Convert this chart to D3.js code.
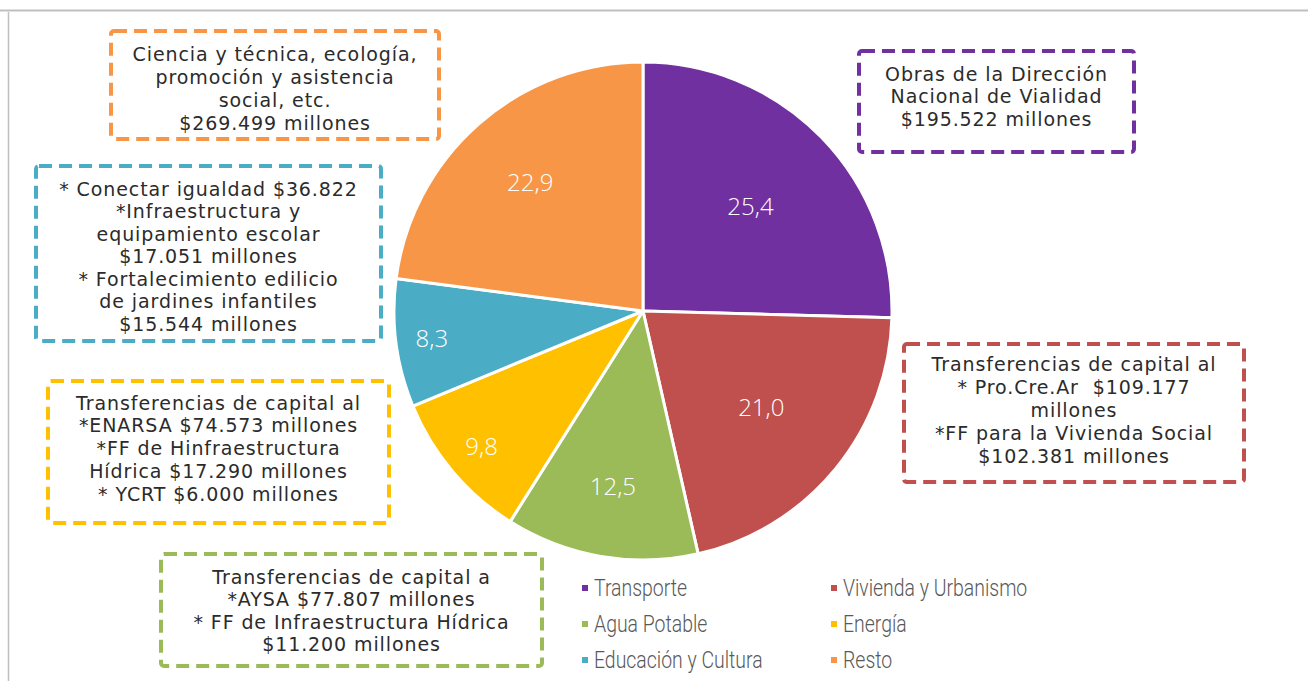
<!DOCTYPE html>
<html>
<head>
<meta charset="utf-8">
<script src="https://cdn.jsdelivr.net/npm/d3@7"></script>
<style>
  body { margin: 0; background: #fff; }
  svg { display: block; }
</style>
</head>
<body>
<svg id="chart" width="1308" height="681"></svg>
<script>
// data
var categories = ["Transporte", "Vivienda y Urbanismo", "Agua Potable", "Energía", "Educación y Cultura", "Resto"];
var values = [25.4, 21.0, 12.5, 9.8, 8.3, 22.9];
var colors = ["#7030A0", "#C0504D", "#9BBB59", "#FFC000", "#4BACC6", "#F79646"];

// callout texts, one per category
var notes = [
  ["Obras de la Dirección", "Nacional de Vialidad", "$195.522 millones"],
  ["Transferencias de capital al", "* Pro.Cre.Ar  $109.177", "millones", "*FF para la Vivienda Social", "$102.381 millones"],
  ["Transferencias de capital a", "*AYSA $77.807 millones", "* FF de Infraestructura Hídrica", "$11.200 millones"],
  ["Transferencias de capital al", "*ENARSA $74.573 millones", "*FF de Hinfraestructura", "Hídrica $17.290 millones", "* YCRT $6.000 millones"],
  ["* Conectar igualdad $36.822", "*Infraestructura y", "equipamiento escolar", "$17.051 millones", "* Fortalecimiento edilicio", "de jardines infantiles", "$15.544 millones"],
  ["Ciencia y técnica, ecología,", "promoción y asistencia", "social, etc.", "$269.499 millones"]
];

var svg = d3.select("#chart");

// chart frame (partly visible)
svg.append("line").attr("x1", 0).attr("x2", 1308).attr("y1", 10.5).attr("y2", 10.5)
  .attr("stroke", "#bfbfbf").attr("stroke-width", 2);
svg.append("line").attr("x1", 8.5).attr("x2", 8.5).attr("y1", 12).attr("y2", 681)
  .attr("stroke", "#bfbfbf").attr("stroke-width", 1.5);

var cx = 643, cy = 311, R = 249;

var pie = d3.pie().sort(null).value(function(d) { return d; });
var arcs = pie(values);
var arc = d3.arc().innerRadius(0).outerRadius(R);

var g = svg.append("g").attr("transform", "translate(" + cx + "," + cy + ")");

g.selectAll("path.slice")
  .data(arcs)
  .enter()
  .append("path")
  .attr("class", "slice")
  .attr("d", arc)
  .attr("fill", function(d, i) { return colors[i]; })
  .attr("stroke", "#fff")
  .attr("stroke-width", 3)
  .attr("stroke-linejoin", "round");

// excel "best fit" labels sit at different distances
var labelR = [150, 153, 178, 211, 213, 171];
var fmt = function(v) { return v.toFixed(1).replace(".", ","); };

g.selectAll("text.val")
  .data(arcs)
  .enter()
  .append("text")
  .attr("class", "val")
  .attr("transform", function(d, i) {
    var a = (d.startAngle + d.endAngle) / 2;
    return "translate(" + (Math.sin(a) * labelR[i]) + "," + (-Math.cos(a) * labelR[i]) + ")";
  })
  .attr("text-anchor", "middle")
  .attr("dy", "0.35em")
  .attr("fill", "#fff")
  .style("font-family", "'Open Sans', sans-serif")
  .style("font-weight", 300)
  .style("font-size", "24px")
  .text(function(d) { return fmt(d.value); });

// callout boxes: x, y, w, h and first line centre
var boxes = [
  { x: 859, y: 51, w: 275, h: 101, y0: 74, lh: 22.5 },
  { x: 904, y: 344, w: 340, h: 138, y0: 364, lh: 23.2 },
  { x: 161, y: 554, w: 381, h: 112, y0: 577, lh: 22.5 },
  { x: 48, y: 381, w: 341, h: 142, y0: 403, lh: 22.8 },
  { x: 36, y: 166, w: 345, h: 175, y0: 189, lh: 22.5 },
  { x: 111, y: 31, w: 328, h: 108, y0: 54, lh: 23 }
];

boxes.forEach(function(b, i) {
  svg.append("rect")
    .attr("x", b.x).attr("y", b.y).attr("width", b.w).attr("height", b.h)
    .attr("rx", 3)
    .attr("fill", "none")
    .attr("stroke", colors[i])
    .attr("stroke-width", 4)
    .attr("stroke-dasharray", "13,7");
  svg.append("g").selectAll("text")
    .data(notes[i])
    .enter()
    .append("text")
    .attr("x", b.x + b.w / 2)
    .attr("y", function(d, j) { return b.y0 + j * b.lh; })
    .attr("dy", "0.35em")
    .attr("text-anchor", "middle")
    .attr("fill", "#2b2b2b")
    .style("font-family", "'DejaVu Sans', sans-serif")
    .style("font-size", "19px")
    .style("letter-spacing", "0.9px")
    .style("white-space", "pre")
    .text(function(d) { return d; });
});

// legend, two columns
var legX = [585, 834], legY = [588, 624, 660];
var leg = svg.append("g").selectAll("g")
  .data(categories)
  .enter()
  .append("g")
  .attr("transform", function(d, i) {
    return "translate(" + legX[i % 2] + "," + legY[Math.floor(i / 2)] + ")";
  });
leg.append("rect").attr("x", -3).attr("y", -3).attr("width", 6).attr("height", 6)
  .attr("fill", function(d, i) { return colors[i]; });
leg.append("text")
  .attr("transform", "translate(9,0) scale(0.81,1)")
  .attr("dy", "0.35em")
  .attr("fill", "#595959")
  .style("font-family", "Roboto, sans-serif")
  .style("font-weight", 300)
  .style("font-size", "24px")
  .text(function(d) { return d; });
</script>
</body>
</html>
